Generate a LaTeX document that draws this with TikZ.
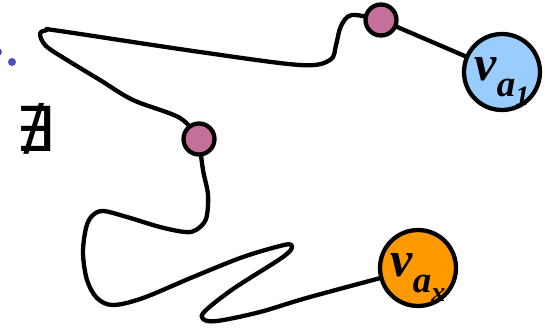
\documentclass[tikz,border=0pt]{standalone}
\usepackage{fontspec}
\setmainfont{Liberation Serif}
\newfontfamily\symfont{DejaVu Sans}
\definecolor{nodeblue}{HTML}{99CCFF}
\definecolor{nodeorange}{HTML}{FF9900}
\definecolor{dotpink}{HTML}{C4709B}
\definecolor{dotblue}{HTML}{4F4FBF}
\newcommand\vlabel[1]{{\fontsize{50}{50}\selectfont\bfseries\itshape v\raisebox{-16pt}{\fontsize{37}{37}\selectfont a\raisebox{-9pt}{\fontsize{28}{28}\selectfont #1}}}}
\begin{document}
\begin{tikzpicture}[x=1pt,y=-1pt,
  wire/.style={line width=4.3pt,line join=round,line cap=round},
  bigvertex/.style={circle,draw=black,line width=4.3pt,minimum size=76pt,inner sep=0pt,text height=28pt,text depth=12pt},
  pinkdot/.style={circle,draw=black,line width=4.3pt,fill=dotpink,minimum size=31pt,inner sep=0pt},
  bluedot/.style={circle,fill=dotblue,minimum size=8pt,inner sep=0pt}]
\useasboundingbox (0,0) rectangle (545,327);
\coordinate (c1) at (381,20);
\coordinate (c2) at (199,139);
\coordinate (ca1) at (502,72);
\coordinate (cax) at (418,268);
% top wire
\draw[wire] plot[smooth,tension=0.55] coordinates {(c1) (352,15) (341,26) (336,45) (330,60) (300,65) (200,52) (60,31) (47,30) (40,34) (46,46) (67,60) (100,80) (133,100) (180,118) (c2)};
% lower wire
\draw[wire] plot[smooth,tension=0.55] coordinates {(c2) (203,170) (208,195) (206,219) (196,230) (185,232) (160,227) (127,217) (103,211) (92,216) (86,228) (83,253) (87,280) (97,298) (113,305) (143,298) (193,277) (243,257) (284,245) (292,246) (289,252) (277,261) (233,289) (205,311) (203,319) (217,321) (260,312) (310,297) (cax)};
% straight connector
\draw[wire] (c1) -- (ca1);
\node[pinkdot] (p1) at (c1) {};
\node[pinkdot] (p2) at (c2) {};
\node[bigvertex,fill=nodeblue] (va1) at (ca1) {\vlabel{1}};
\node[bigvertex,fill=nodeorange] (vax) at (cax) {\vlabel{x}};
\node[bluedot] (d1) at (12,62) {};
\node[bluedot] (d0) at (-2,52) {};
\node[inner sep=0pt] (nex) at (35,129) {\fontsize{62}{62}\selectfont\symfont ∄};
\end{tikzpicture}
\end{document}
